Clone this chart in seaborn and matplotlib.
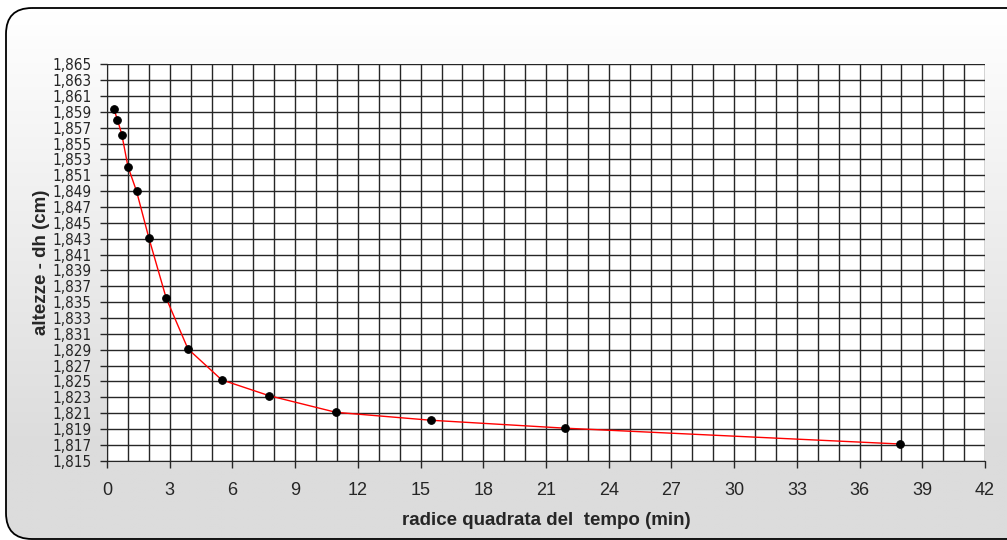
import seaborn as sns
import pandas as pd
import numpy as np
import matplotlib.pyplot as plt
from matplotlib.patches import FancyBboxPatch
from matplotlib.colors import LinearSegmentedColormap
from matplotlib.ticker import MultipleLocator, FuncFormatter

# radice quadrata del tempo (min) e altezze
radice_tempo = [0.32, 0.5, 0.71, 1.0, 1.41, 2.0, 2.83, 3.87, 5.48, 7.75, 10.95, 15.49, 21.91, 37.95]
altezze = [1.8594, 1.8580, 1.8561, 1.8521, 1.8490, 1.8431, 1.8355, 1.8291, 1.8252, 1.8232, 1.8211, 1.8201, 1.8191, 1.8171]

x_ticks = list(range(0, 43, 3))
y_ticks = [round(1.815 + 0.002 * i, 3) for i in range(26)]

df = pd.DataFrame({'radice': radice_tempo, 'altezza': altezze})

sns.set_style('white')
plt.rcParams['font.family'] = ['Liberation Sans', 'DejaVu Sans']

fig = plt.figure(figsize=(10.07, 5.4), dpi=100)
fig.patch.set_facecolor('white')

# sfondo con gradiente verticale e bordo arrotondato
bg = fig.add_axes([0, 0, 1, 1], zorder=0)
bg.set_xlim(0, 1007)
bg.set_ylim(540, 0)
bg.axis('off')
gy = np.linspace(0, 540, 300)[:, None] * np.ones((1, 50))
grad = np.clip((gy - 10) / 440, 0, 1)
cmap = LinearSegmentedColormap.from_list('g', ['#ffffff', '#dcdcdc'])
img = bg.imshow(grad, extent=[0, 1007, 540, 0], cmap=cmap, vmin=0, vmax=1,
                aspect='auto', zorder=0)
box = FancyBboxPatch((6, 8), 1040, 531, boxstyle='round,pad=0,rounding_size=26',
                     facecolor='none', edgecolor='black', linewidth=1.3, zorder=2)
bg.add_patch(box)
img.set_clip_path(box)

ax = fig.add_axes([0.1063, 0.1469, 0.8719, 0.734], zorder=1)
ax.set_facecolor('white')

sns.lineplot(data=df, x='radice', y='altezza', ax=ax, color='red', linewidth=1,
             marker='o', markersize=5.5, markerfacecolor='black', markeredgecolor='black',
             zorder=3)

ax.set_xlim(0, 42)
ax.set_ylim(1.815, 1.865)
ax.set_xticks(x_ticks)
ax.set_yticks(y_ticks)
ax.xaxis.set_minor_locator(MultipleLocator(1))
ax.yaxis.set_major_formatter(FuncFormatter(lambda v, p: f'{v:.3f}'.replace('.', ',')))
ax.grid(True, which='both', color='#262626', linewidth=1)
ax.set_axisbelow(True)
for s in ax.spines.values():
    s.set_visible(False)
ax.spines['left'].set_visible(True)
ax.spines['bottom'].set_visible(True)
ax.spines['left'].set_color('#262626')
ax.spines['bottom'].set_color('#262626')

ax.tick_params(axis='x', which='major', direction='out', length=5, width=1, color='#262626',
               labelsize=13, pad=10, bottom=True)
ax.tick_params(axis='x', which='minor', length=0)
ax.tick_params(axis='y', direction='out', length=5, width=1, color='#262626',
               labelsize=11, pad=6, left=True)
for lab in ax.get_yticklabels():
    lab.set_family(['DejaVu Sans', 'Liberation Sans'])
    lab.set_fontstretch('condensed')

ax.set_xlabel('radice quadrata del  tempo (min)', fontsize=13.5, fontweight='bold', labelpad=10)
ax.set_ylabel('altezze - dh (cm)', fontsize=13.5, fontweight='bold', labelpad=2)

fig.savefig('out.png', dpi=100)
